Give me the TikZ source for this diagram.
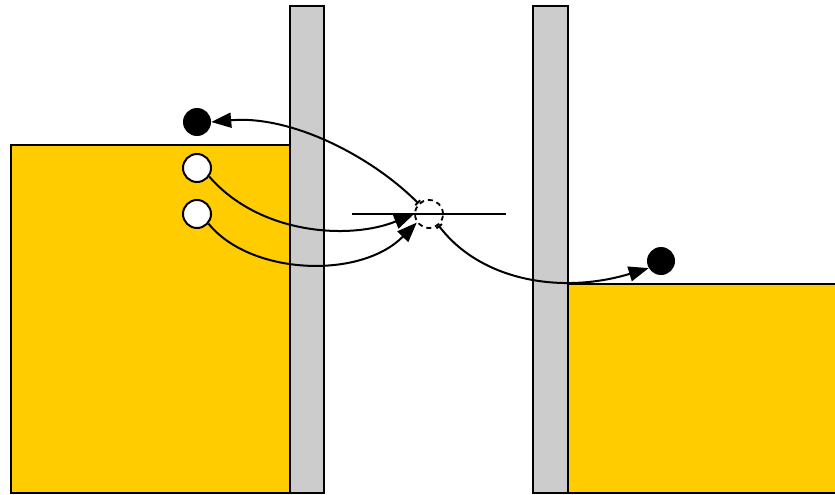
\documentclass[tikz,border=0pt]{standalone}
\usetikzlibrary{arrows.meta}
\definecolor{bulk}{HTML}{FFCC00}
\definecolor{wall}{HTML}{CCCCCC}
\tikzset{
  edge/.style={line width=2pt},
  hole/.style={circle, draw, fill=white, line width=2pt, minimum size=28pt, inner sep=0pt},
  electron/.style={circle, fill=black, minimum size=28pt, inner sep=0pt},
  transit/.style={circle, draw, dash pattern=on 5pt off 4pt, line width=1.8pt, minimum size=28pt, inner sep=0pt},
  hop/.style={line width=2pt, -{Triangle[length=20pt,width=15pt]}},
  hopbar/.style={line width=2pt, {Bar[width=7pt]}-{Triangle[length=20pt,width=15pt]}}
}
\begin{document}
\begin{tikzpicture}[x=1pt, y=-1pt]
\useasboundingbox (0,0) rectangle (835,495);
% electrodes and barrier walls
\draw[edge, fill=bulk] (11,145) rectangle (290,493);
\draw[edge, fill=wall] (290,6) rectangle (324,493);
\draw[edge, fill=wall] (533,6) rectangle (568,493);
\draw[edge, fill=bulk] (568,284) rectangle (840,493);
% level in the gap
\coordinate (l1) at (352,214);
\coordinate (l2) at (506,214);
\draw[line width=2pt] (l1) -- (l2);
% carriers
\node[electron] (e1) at (197,122) {};
\node[hole] (h1) at (197,168) {};
\node[hole] (h2) at (197,214) {};
\node[transit] (t) at (429,214) {};
\node[electron] (e2) at (661,261) {};
% transitions
\draw[hopbar] (t.135) .. controls (370,155) and (290,115) .. (e1.east);
\draw[hop] (h1.-35) .. controls (260,235) and (350,240) .. (t.180);
\draw[hop] (h2.-40) .. controls (250,275) and (360,280) .. (t.-145);
\draw[hopbar] (t.-50) .. controls (480,280) and (560,295) .. (e2.-150);
\end{tikzpicture}
\end{document}
